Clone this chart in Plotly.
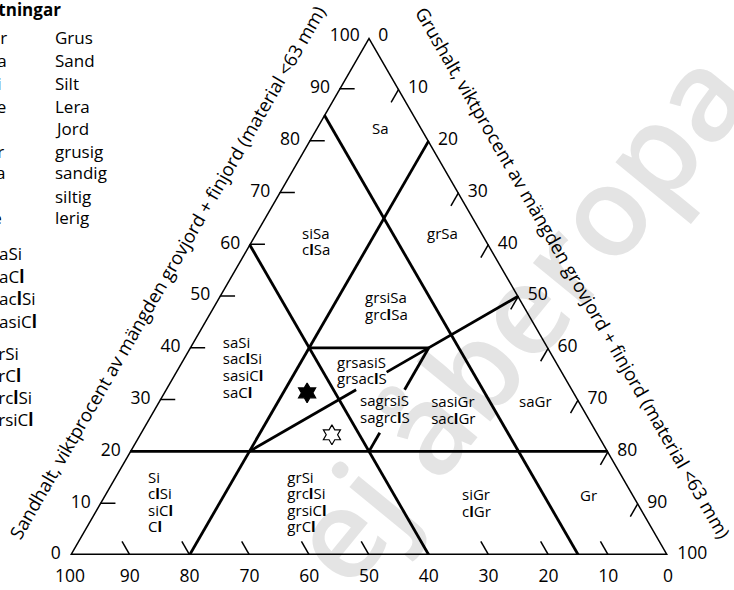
import plotly.graph_objects as go

FONT = "Open Sans"
W, H = 734, 590

# ---------------- data (percent by weight) ----------------
# axis a = sand (top corner), b = fines (bottom-left), c = gravel (bottom-right)
tick_values = [0, 10, 20, 30, 40, 50, 60, 70, 80, 90, 100]
inner_ticks = [10, 20, 30, 40, 50, 60, 70, 80, 90]
TICK_LEN = 2.6

# triangle outline
outline_sand = [100, 0, 0, 100]
outline_gravel = [0, 0, 100, 0]

# class boundaries, one [start, end] pair per segment
seg_sand = [[20, 20], [0, 80], [60, 0], [85, 0], [40, 40],
            [20, 31.9], [35.3, 50], [20, 23.6], [31.9, 40]]
seg_gravel = [[0, 80], [20, 20], [0, 60], [0, 85], [20, 40],
              [20, 31.9], [35.3, 50], [40, 40], [40, 40]]

# soil class names: text lines of each field and the middle-left point of the block
class_blocks = [
    ["Sa"],
    ["siSa", "c<b>l</b>Sa"],
    ["grSa"],
    ["grsiSa", "grc<b>l</b>Sa"],
    ["saSi", "sac<b>l</b>Si", "sasiC<b>l</b>", "saC<b>l</b>"],
    ["grsasiS", "grsac<b>l</b>S"],
    ["sagrsiS", "sagrc<b>l</b>S"],
    ["sasiGr", "sac<b>l</b>Gr"],
    ["saGr"],
    ["Si", "c<b>l</b>Si", "siC<b>l</b>", "C<b>l</b>"],
    ["grSi", "grc<b>l</b>Si", "grsiC<b>l</b>", "grC<b>l</b>"],
    ["siGr", "c<b>l</b>Gr"],
    ["Gr"],
]
block_sand = [82.0, 60.2, 61.8, 47.7, 35.9, 35.3, 27.8, 27.6, 29.2, 9.9, 9.9, 9.7, 11.2]
block_gravel = [9.5, 8.7, 28.8, 25.5, 7.6, 27.0, 34.6, 46.6, 60.5, 8.1, 31.4, 60.7, 79.7]
LINE_STEP = 3.2  # sand units between text lines

# two sample points
sample_sand = [31.3, 23.2]
sample_gravel = [24.0, 32.2]
sample_symbols = ["hexagram", "hexagram-open"]

# abbreviation list
legend_title = "Förkortningar"
legend_codes = ["Gr", "Sa", "Si", "Le", "S", "gr", "sa", "si", "le"]
legend_names = ["Grus", "Sand", "Silt", "Lera", "Jord", "grusig", "sandig", "siltig", "lerig"]
examples_sa = ["saSi", "saC<b>l</b>", "sac<b>l</b>Si", "sasiC<b>l</b>"]
examples_gr = ["grSi", "grC<b>l</b>", "grc<b>l</b>Si", "grsiC<b>l</b>"]

left_title = "Sandhalt, viktprocent av mängden grovjord + finjord (material <63 mm)"
right_title = "Grushalt, viktprocent av mängden grovjord + finjord (material <63 mm)"
watermark = "ej åberopa"


def fines(s, g):
    return [100 - a - c for a, c in zip(s, g)]


fig = go.Figure()

# class boundary lines
bs, bg = [], []
for s_pair, g_pair in zip(seg_sand, seg_gravel):
    bs += s_pair + [None]
    bg += g_pair + [None]
bf = [None if s is None else 100 - s - g for s, g in zip(bs, bg)]
fig.add_trace(go.Scatterternary(a=bs, b=bf, c=bg, mode="lines",
                                line=dict(color="black", width=2.8),
                                cliponaxis=False, hoverinfo="skip"))

# tick marks: along the grid direction of each axis
ts, tg = [], []
for v in inner_ticks:
    ts += [v, v, None]; tg += [0, TICK_LEN, None]                        # sand
    ts += [100 - v, 100 - v - TICK_LEN, None]; tg += [v, v, None]        # gravel
    ts += [0, TICK_LEN, None]; tg += [100 - v, 100 - v - TICK_LEN, None]  # fines
tf = [None if s is None else 100 - s - g for s, g in zip(ts, tg)]
fig.add_trace(go.Scatterternary(a=ts, b=tf, c=tg, mode="lines",
                                line=dict(color="black", width=1.5),
                                cliponaxis=False, hoverinfo="skip"))

# outline
fig.add_trace(go.Scatterternary(a=outline_sand, b=fines(outline_sand, outline_gravel),
                                c=outline_gravel, mode="lines",
                                line=dict(color="black", width=3),
                                cliponaxis=False, hoverinfo="skip"))

# tick labels
tick_font = dict(family=FONT, size=17.5, color="black")
clear = "rgba(0,0,0,0)"
fig.add_trace(go.Scatterternary(
    a=tick_values, b=[100 - v for v in tick_values], c=[0] * len(tick_values),
    mode="markers+text", text=[str(v) for v in tick_values], textposition="middle left",
    marker=dict(size=13, color=clear), textfont=tick_font, cliponaxis=False, hoverinfo="skip"))
fig.add_trace(go.Scatterternary(
    a=[0] * len(tick_values), b=tick_values, c=[100 - v for v in tick_values],
    mode="markers+text", text=[str(v) for v in tick_values], textposition="bottom center",
    marker=dict(size=21, color=clear), textfont=tick_font, cliponaxis=False, hoverinfo="skip"))
fig.add_trace(go.Scatterternary(
    a=[100 - v for v in tick_values], b=[0] * len(tick_values), c=tick_values,
    mode="markers+text", text=[str(v) for v in tick_values], textposition="middle right",
    marker=dict(size=13, color=clear), textfont=tick_font, cliponaxis=False, hoverinfo="skip"))

# class names, one text point per line, stacked straight down
ls, lg, lt = [], [], []
for lines, s0, g0 in zip(class_blocks, block_sand, block_gravel):
    n = len(lines)
    for k, txt in enumerate(lines):
        s = s0 - (k - (n - 1) / 2) * LINE_STEP
        ls.append(s)
        lg.append(g0 + (s0 - s) / 2)
        lt.append(txt)
fig.add_trace(go.Scatterternary(
    a=ls, b=fines(ls, lg), c=lg, mode="text", text=lt, textposition="middle right",
    textfont=dict(family=FONT, size=15, color="black"), cliponaxis=False, hoverinfo="skip"))

# sample points
fig.add_trace(go.Scatterternary(
    a=sample_sand, b=fines(sample_sand, sample_gravel), c=sample_gravel,
    mode="markers", marker=dict(symbol=sample_symbols, size=15, color="black",
                                line=dict(color="black", width=1.2)),
    cliponaxis=False, hoverinfo="skip"))

# ---------------- text outside the triangle ----------------
def px(x):
    return x / W


def py(y):
    return 1 - y / H


annotations = [
    dict(text=left_title, x=px(167), y=py(273), textangle=-60,
         font=dict(family=FONT, size=18.5, color="black")),
    dict(text=right_title, x=px(573), y=py(273), textangle=60,
         font=dict(family=FONT, size=18.5, color="black")),
    dict(text="<b>" + legend_title + "</b>", x=px(63), y=py(10), xanchor="right",
         font=dict(family=FONT, size=17, color="black")),
]
row_y = [38, 60.5, 83, 106, 128, 151, 173, 196, 218]
for code, name, y in zip(legend_codes, legend_names, row_y):
    annotations.append(dict(text=code, x=px(-14), y=py(y), xanchor="left",
                            font=dict(family=FONT, size=17, color="black")))
    annotations.append(dict(text=name, x=px(53), y=py(y), xanchor="left",
                            font=dict(family=FONT, size=17, color="black")))
for txt, y in zip(examples_sa, [253, 276, 298, 321]):
    annotations.append(dict(text=txt, x=px(-11), y=py(y), xanchor="left",
                            font=dict(family=FONT, size=17, color="black")))
for txt, y in zip(examples_gr, [353, 375, 397, 419]):
    annotations.append(dict(text=txt, x=px(-13), y=py(y), xanchor="left",
                            font=dict(family=FONT, size=17, color="black")))
for a in annotations:
    a.update(xref="paper", yref="paper", showarrow=False)
    a.setdefault("xanchor", "center")
    a.setdefault("yanchor", "middle")

axis_off = dict(showgrid=False, showline=False, showticklabels=False, ticks="",
                title=dict(text=""))

fig.update_layout(
    width=W, height=H, margin=dict(l=0, r=0, t=0, b=0),
    paper_bgcolor="white", showlegend=False,
    ternary=dict(sum=100, bgcolor="rgba(0,0,0,0)",
                 domain=dict(x=[0.09537, 0.91008], y=[0.05932, 0.93729]),
                 aaxis=axis_off, baxis=axis_off, caxis=axis_off),
    annotations=annotations,
    shapes=[dict(type="line", xref="paper", yref="paper", layer="below",
                 x0=px(285), y0=py(610), x1=px(760), y1=py(30),
                 line=dict(color="rgba(0,0,0,0)", width=0),
                 label=dict(text=watermark, textposition="middle", yanchor="middle",
                            font=dict(family=FONT, size=125, color="#e4e4e4",
                                      weight=600)))],
)

fig.write_html("out.html")
